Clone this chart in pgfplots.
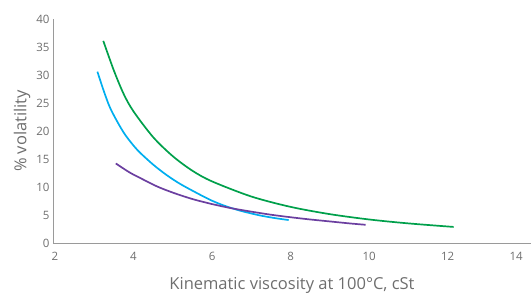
\documentclass[border=0pt]{standalone}
\usepackage{fontspec}
\setmainfont{Open Sans}
\usepackage{pgfplots}
\pgfplotsset{compat=1.18}
\definecolor{cgreen}{HTML}{00A04B}
\definecolor{cblue}{HTML}{00AEEF}
\definecolor{cpurple}{HTML}{6B3FA0}
\definecolor{caxis}{HTML}{9A9A9A}
\definecolor{ctext}{HTML}{6E6E6E}
\begin{document}
\begin{tikzpicture}
\useasboundingbox (0pt,0pt) rectangle (531pt,301pt);
\begin{axis}[
  at={(53pt,58pt)}, anchor=south west,
  scale only axis, width=478pt, height=224pt,
  xmin=1.95, xmax=14.12, ymin=0, ymax=40,
  axis lines*=left,
  axis line style={caxis, line width=0.9pt, -},
  xtick={2,4,...,14}, ytick={0,5,...,40},
  xticklabels={2,4,6,8,10,12,\makebox[0pt][r]{14}\hspace*{7pt}},
  major tick length=0pt,
  tick label style={font=\fontsize{11.5}{13}\selectfont, text=ctext},
  /pgf/number format/assume math mode=true,
  xticklabel style={yshift=-6pt},
  xlabel={Kinematic viscosity at 100°C, cSt},
  ylabel={\% volatility},
  label style={font=\fontsize{16.5}{18}\selectfont, text=ctext},
  xlabel style={yshift=-10pt},
  ylabel style={yshift=-1pt},
  clip=false,
]
\addplot[cgreen, line width=1.7pt, smooth] coordinates {
 (3.23,36.1) (3.5,30.8) (3.75,26.6) (4.0,23.5) (4.5,18.9) (5.0,15.5) (5.5,12.9) (6.0,11.0) (7.0,8.3) (8.0,6.45) (9.0,5.15) (10.0,4.2) (11.0,3.5) (12.15,2.87)
};
\addplot[cblue, line width=1.7pt, smooth] coordinates {
 (3.08,30.6) (3.25,27.0) (3.40,24.2) (3.6,21.5) (3.8,19.2) (4.1,16.6) (4.5,14.0) (4.85,12.1) (5.2,10.5) (5.7,8.6) (6.0,7.55) (6.3,6.7) (6.7,5.8) (7.2,4.95) (7.6,4.45) (7.95,4.1)
};
\addplot[cpurple, line width=1.7pt, smooth] coordinates {
 (3.55,14.2) (3.9,12.6) (4.2,11.5) (4.6,10.1) (5.0,9.0) (5.5,7.85) (6.0,6.95) (6.5,6.2) (7.0,5.6) (7.5,5.05) (8.0,4.6) (8.5,4.2) (9.0,3.85) (9.5,3.5) (9.91,3.25)
};
\end{axis}
\end{tikzpicture}
\end{document}
